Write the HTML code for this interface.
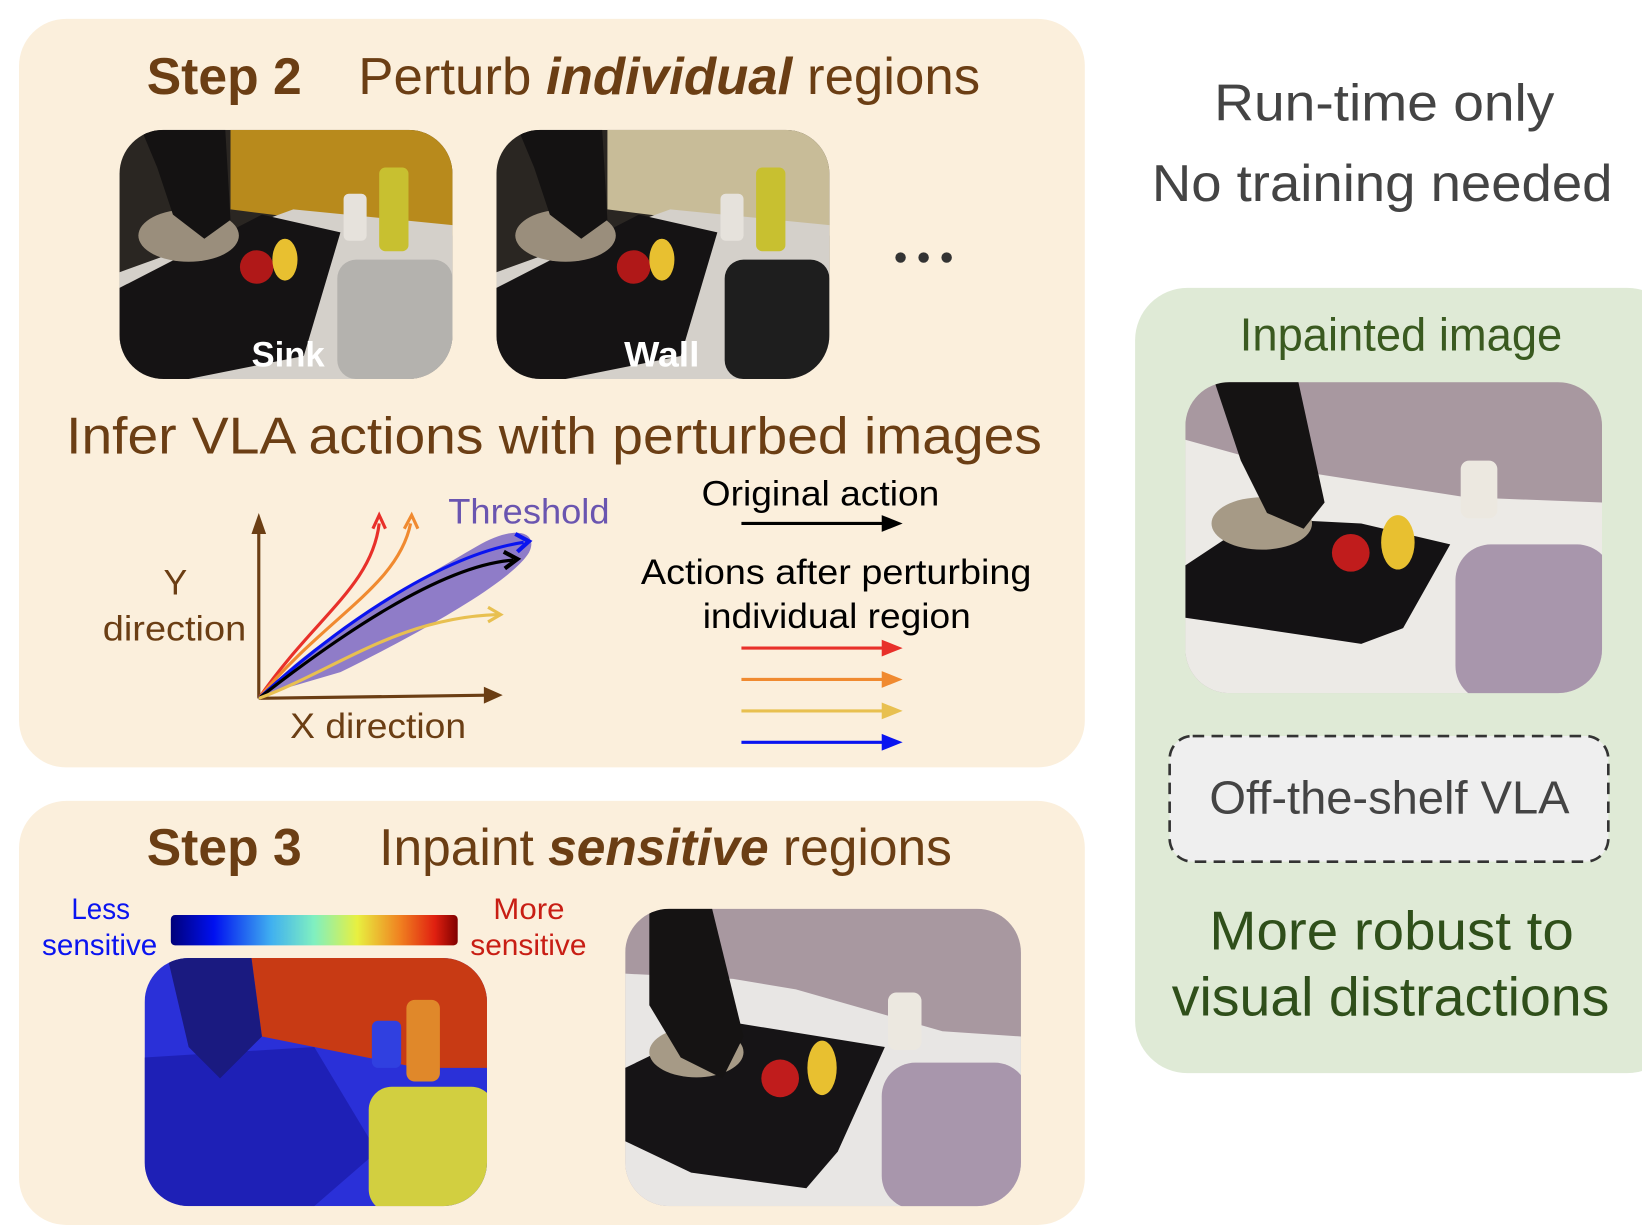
<!DOCTYPE html>
<html><head><meta charset="utf-8"><style>
html,body{margin:0;padding:0;background:#fff;}
svg{display:block;}
text{font-family:"Liberation Sans",sans-serif;}
</style></head><body>
<svg width="1642" height="1226" viewBox="0 0 1568 1171" xmlns="http://www.w3.org/2000/svg">
<defs>
<linearGradient id="jet" x1="0" x2="1">
<stop offset="0" stop-color="#00007a"/><stop offset="0.15" stop-color="#0010f0"/><stop offset="0.35" stop-color="#40b0f0"/><stop offset="0.5" stop-color="#80f0c0"/><stop offset="0.65" stop-color="#e8f040"/><stop offset="0.8" stop-color="#f08020"/><stop offset="0.92" stop-color="#e02010"/><stop offset="1" stop-color="#800000"/>
</linearGradient>
<clipPath id="c1"><rect x="114" y="124" width="318" height="238" rx="42"/></clipPath>
<clipPath id="c2"><rect x="474" y="124" width="318" height="238" rx="42"/></clipPath>
<clipPath id="c3"><rect x="138" y="915" width="327" height="237" rx="42"/></clipPath>
<clipPath id="c4"><rect x="597" y="868" width="378" height="284" rx="42"/></clipPath>
<clipPath id="c5"><rect x="1132" y="365" width="398" height="297" rx="42"/></clipPath>
</defs>

<!-- Step 2 panel -->
<rect x="18" y="18" width="1018" height="715" rx="45" fill="#fbefdc"/>
<text x="140" y="90" font-size="50" font-weight="bold" fill="#6b3e14" textLength="148" lengthAdjust="spacingAndGlyphs">Step 2</text>
<text x="342" y="90" font-size="50" fill="#6b3e14" textLength="594" lengthAdjust="spacingAndGlyphs">Perturb <tspan font-weight="bold" font-style="italic">individual</tspan> regions</text>

<g clip-path="url(#c1)">
<rect x="114" y="124" width="318" height="238" fill="#2a2622"/>
<polygon points="220,124 432,124 432,225 300,210 220,200" fill="#b88a1c"/>
<polygon points="114,260 280,200 432,215 432,362 114,362" fill="#d4d0ca"/>
<polygon points="114,275 250,205 325,222 290,340 180,362 114,362" fill="#151314"/>
<ellipse cx="180" cy="225" rx="48" ry="25" fill="#9a8e7c"/>
<circle cx="245" cy="255" r="16" fill="#b01818"/>
<ellipse cx="272" cy="248" rx="12" ry="20" fill="#e8c030"/>
<polygon points="135,124 215,124 220,210 195,228 165,205 150,160" fill="#141212"/>
<rect x="328" y="185" width="22" height="45" rx="5" fill="#e6e2dc"/>
<rect x="362" y="160" width="28" height="80" rx="6" fill="#c8c030"/>
<rect x="322" y="248" width="110" height="114" rx="18" fill="#b4b2ae"/>
</g>
<text x="240" y="350" font-size="34" font-weight="bold" fill="#fff" textLength="70" lengthAdjust="spacingAndGlyphs">Sink</text>

<g clip-path="url(#c2)">
<rect x="474" y="124" width="318" height="238" fill="#2a2622"/>
<polygon points="580,124 792,124 792,225 660,210 580,200" fill="#c8bc98"/>
<polygon points="474,260 640,200 792,215 792,362 474,362" fill="#d4d0ca"/>
<polygon points="474,275 610,205 685,222 650,340 540,362 474,362" fill="#151314"/>
<ellipse cx="540" cy="225" rx="48" ry="25" fill="#9a8e7c"/>
<circle cx="605" cy="255" r="16" fill="#b01818"/>
<ellipse cx="632" cy="248" rx="12" ry="20" fill="#e8c030"/>
<polygon points="495,124 575,124 580,210 555,228 525,205 510,160" fill="#141212"/>
<rect x="688" y="185" width="22" height="45" rx="5" fill="#e6e2dc"/>
<rect x="722" y="160" width="28" height="80" rx="6" fill="#c8c030"/>
<rect x="692" y="248" width="100" height="114" rx="18" fill="#1e1e1e"/>
</g>
<text x="596" y="350" font-size="34" font-weight="bold" fill="#fff" textLength="72" lengthAdjust="spacingAndGlyphs">Wall</text>
<circle cx="860" cy="246" r="5" fill="#333"/><circle cx="882" cy="246" r="5" fill="#333"/><circle cx="904" cy="246" r="5" fill="#333"/>

<text x="63" y="433" font-size="50" fill="#6b3e14" textLength="932" lengthAdjust="spacingAndGlyphs">Infer VLA actions with perturbed images</text>

<!-- chart -->
<path d="M250,664 C300,610 390,560 455,522 C492,500 515,508 505,528 C488,556 400,605 325,642 Z" fill="#8f7cc8"/>
<text x="428" y="500" font-size="34" fill="#6a55b0" textLength="154" lengthAdjust="spacingAndGlyphs">Threshold</text>
<line x1="247" y1="667" x2="247" y2="508" stroke="#6b3e14" stroke-width="3"/>
<polygon points="240,510 254,510 247,490" fill="#6b3e14"/>
<line x1="247" y1="667" x2="465" y2="664" stroke="#6b3e14" stroke-width="3"/>
<polygon points="462,656 480,664 462,672" fill="#6b3e14"/>
<g fill="none" stroke-width="3">
<path d="M247,667 C300,590 355,560 362,500" stroke="#e8302a"/>
<path d="M247,667 C310,590 380,560 392,500" stroke="#f08a30"/>
<path d="M247,667 C320,600 420,530 500,518" stroke="#0a14f0"/>
<path d="M247,667 C320,610 420,540 490,535" stroke="#000"/>
<path d="M247,667 C320,640 380,590 475,587" stroke="#e8c050"/>
</g>
<path d="M356,505 L362,492 L368,505" fill="none" stroke="#e8302a" stroke-width="3"/>
<path d="M386,505 L393,492 L399,505" fill="none" stroke="#f08a30" stroke-width="3"/>
<path d="M492,510 L505,517 L494,527" fill="none" stroke="#0a14f0" stroke-width="4"/>
<path d="M481,527 L494,534 L482,543" fill="none" stroke="#000" stroke-width="4"/>
<path d="M466,580 L478,587 L466,594" fill="none" stroke="#e8c050" stroke-width="3"/>
<text x="156" y="568" font-size="34" fill="#6b3e14">Y</text>
<text x="98" y="612" font-size="34" fill="#6b3e14" textLength="137" lengthAdjust="spacingAndGlyphs">direction</text>
<text x="277" y="705" font-size="34" fill="#6b3e14" textLength="168" lengthAdjust="spacingAndGlyphs">X direction</text>

<!-- legend -->
<text x="670" y="483" font-size="34" fill="#000" textLength="227" lengthAdjust="spacingAndGlyphs">Original action</text>
<line x1="708" y1="500" x2="845" y2="500" stroke="#000" stroke-width="3"/><polygon points="842,492 862,500 842,508" fill="#000"/>
<text x="612" y="558" font-size="34" fill="#000" textLength="373" lengthAdjust="spacingAndGlyphs">Actions after perturbing</text>
<text x="671" y="600" font-size="34" fill="#000" textLength="256" lengthAdjust="spacingAndGlyphs">individual region</text>
<line x1="708" y1="619" x2="845" y2="619" stroke="#e8302a" stroke-width="3"/><polygon points="842,611 862,619 842,627" fill="#e8302a"/>
<line x1="708" y1="649" x2="845" y2="649" stroke="#f08a30" stroke-width="3"/><polygon points="842,641 862,649 842,657" fill="#f08a30"/>
<line x1="708" y1="679" x2="845" y2="679" stroke="#e8c050" stroke-width="3"/><polygon points="842,671 862,679 842,687" fill="#e8c050"/>
<line x1="708" y1="709" x2="845" y2="709" stroke="#0a14f0" stroke-width="3"/><polygon points="842,701 862,709 842,717" fill="#0a14f0"/>

<!-- Step 3 panel -->
<rect x="18" y="765" width="1018" height="405" rx="45" fill="#fbefdc"/>
<text x="140" y="826" font-size="50" font-weight="bold" fill="#6b3e14" textLength="148" lengthAdjust="spacingAndGlyphs">Step 3</text>
<text x="362" y="826" font-size="50" fill="#6b3e14" textLength="547" lengthAdjust="spacingAndGlyphs">Inpaint <tspan font-weight="bold" font-style="italic">sensitive</tspan> regions</text>
<text x="68" y="878" font-size="28" fill="#0a14f0" textLength="56" lengthAdjust="spacingAndGlyphs">Less</text>
<text x="40" y="912" font-size="28" fill="#0a14f0" textLength="110" lengthAdjust="spacingAndGlyphs">sensitive</text>
<rect x="163" y="874" width="274" height="29" rx="4" fill="url(#jet)"/>
<text x="471" y="878" font-size="28" fill="#c81e14" textLength="68" lengthAdjust="spacingAndGlyphs">More</text>
<text x="449" y="912" font-size="28" fill="#c81e14" textLength="111" lengthAdjust="spacingAndGlyphs">sensitive</text>

<g clip-path="url(#c3)">
<rect x="138" y="915" width="327" height="237" fill="#2a30d8"/>
<polygon points="240,915 465,915 465,1020 400,1020 300,1000 250,990" fill="#c83a14"/>
<polygon points="138,1010 300,1000 360,1100 300,1152 138,1152" fill="#1a1aa8" opacity="0.7"/>
<polygon points="160,915 240,915 250,990 210,1030 180,1000" fill="#1a1a80"/>
<rect x="388" y="955" width="32" height="78" rx="8" fill="#e0882a"/>
<rect x="355" y="975" width="28" height="45" rx="6" fill="#3040e0"/>
<rect x="352" y="1038" width="120" height="120" rx="22" fill="#d2cf40"/>
</g>

<g clip-path="url(#c4)">
<rect x="597" y="868" width="378" height="284" fill="#a898a0"/>
<polygon points="597,930 700,935 760,945 900,985 975,990 975,1152 597,1152" fill="#e8e6e4"/>
<polygon points="597,1020 690,975 845,1000 800,1100 770,1135 660,1120 597,1090" fill="#161416"/>
<ellipse cx="665" cy="1005" rx="45" ry="24" fill="#a69a86"/>
<circle cx="745" cy="1030" r="18" fill="#c01c1c"/>
<ellipse cx="785" cy="1020" rx="14" ry="26" fill="#e8c030"/>
<polygon points="620,868 680,868 710,990 690,1030 650,1010 620,960" fill="#151313"/>
<rect x="848" y="948" width="32" height="55" rx="8" fill="#ece8e0"/>
<rect x="842" y="1015" width="140" height="140" rx="32" fill="#a896ac"/>
</g>

<!-- right side -->
<text x="1322" y="115" font-size="50" fill="#444" text-anchor="middle" textLength="325" lengthAdjust="spacingAndGlyphs">Run-time only</text>
<text x="1320" y="192" font-size="50" fill="#444" text-anchor="middle" textLength="440" lengthAdjust="spacingAndGlyphs">No training needed</text>
<rect x="1084" y="275" width="520" height="750" rx="50" fill="#dfead6"/>
<text x="1338" y="335" font-size="44" fill="#3a5a20" text-anchor="middle" textLength="308" lengthAdjust="spacingAndGlyphs">Inpainted image</text>
<g clip-path="url(#c5)">
<rect x="1132" y="365" width="398" height="297" fill="#a898a0"/>
<polygon points="1132,420 1240,450 1400,475 1530,480 1530,662 1132,662" fill="#eceae6"/>
<polygon points="1132,540 1200,495 1300,500 1385,520 1340,600 1300,615 1200,600 1132,590" fill="#141214"/>
<ellipse cx="1205" cy="500" rx="48" ry="25" fill="#a69a86"/>
<circle cx="1290" cy="528" r="18" fill="#c01c1c"/>
<ellipse cx="1335" cy="518" rx="16" ry="26" fill="#e8c030"/>
<polygon points="1160,365 1240,365 1265,480 1245,505 1210,490 1185,440" fill="#151313"/>
<rect x="1395" y="440" width="35" height="55" rx="8" fill="#ece8e0"/>
<rect x="1390" y="520" width="150" height="150" rx="34" fill="#a896ac"/>
</g>
<rect x="1117" y="703" width="419" height="120" rx="22" fill="#efefef" stroke="#333" stroke-width="2.5" stroke-dasharray="11,7"/>
<text x="1327" y="777" font-size="44" fill="#444" text-anchor="middle" textLength="344" lengthAdjust="spacingAndGlyphs">Off-the-shelf VLA</text>
<text x="1329" y="907" font-size="52" fill="#2f4f1a" text-anchor="middle" textLength="348" lengthAdjust="spacingAndGlyphs">More robust to</text>
<text x="1328" y="970" font-size="52" fill="#2f4f1a" text-anchor="middle" textLength="418" lengthAdjust="spacingAndGlyphs">visual distractions</text>
</svg>
</body></html>
